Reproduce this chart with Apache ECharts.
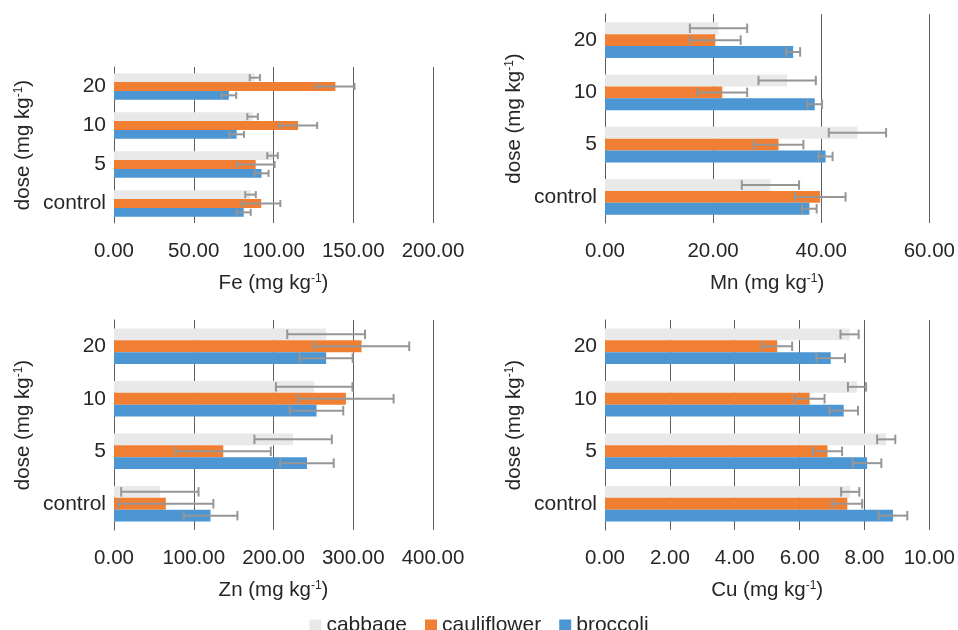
<!DOCTYPE html>
<html>
<head>
<meta charset="utf-8">
<script src="https://cdn.jsdelivr.net/npm/echarts@6/dist/echarts.min.js"></script>
<style>
  html, body { margin: 0; padding: 0; background: #fff; }
  #chart { width: 958px; height: 630px; }
</style>
</head>
<body>
<div id="chart"></div>
<script>
// dose categories, bottom to top
const doses = ["control", "5", "10", "20"];
const vegNames = ["cabbage", "cauliflower", "broccoli"];

// Fe (mg kg-1)
const feCabbage = [85.6, 99.4, 86.9, 88.3];
const feCabbageErr = [3.3, 3.3, 3.3, 3.2];
const feCauli = [92.3, 88.8, 115.4, 138.8];
const feCauliErr = [12, 11.9, 12, 12];
const feBroc = [81.3, 92.5, 76.9, 72.0];
const feBrocErr = [4.4, 4.4, 4.6, 4.6];

// Mn (mg kg-1)
const mnCabbage = [30.6, 46.7, 33.7, 21.0];
const mnCabbageErr = [5.3, 5.3, 5.3, 5.3];
const mnCauli = [39.8, 32.1, 21.7, 20.4];
const mnCauliErr = [4.7, 4.6, 4.6, 4.7];
const mnBroc = [37.8, 40.8, 38.8, 34.8];
const mnBrocErr = [1.35, 1.3, 1.35, 1.3];

// Zn (mg kg-1)
const znCabbage = [57.5, 224.6, 251, 266];
const znCabbageErr = [48.5, 48.5, 48, 48.8];
const znCauli = [65, 137, 290.8, 310.4];
const znCauliErr = [59.6, 59.6, 59.8, 59.8];
const znBroc = [121, 242, 254, 266];
const znBrocErr = [33.75, 33.5, 33.5, 33.3];

// Cu (mg kg-1)
const cuCabbage = [7.56, 8.67, 7.77, 7.54];
const cuCabbageErr = [0.28, 0.28, 0.28, 0.28];
const cuCauli = [7.47, 6.86, 6.31, 5.31];
const cuCauliErr = [0.46, 0.45, 0.46, 0.46];
const cuBroc = [8.88, 8.08, 7.36, 6.96];
const cuBrocErr = [0.44, 0.44, 0.44, 0.44];

const colors = ["#e9e9e9", "#f07f33", "#4b96d3"];
const font = "Liberation Sans, Arial, sans-serif";
const textColor = "#262626";
const lineColor = "#5f5f5f";
const gapPct = 0.32;

const panels = [
  { el: "Fe", max: 200, interval: 50, grid: { left: 114, top: 67, width: 319, height: 156 },
    means: [feCabbage, feCauli, feBroc], errs: [feCabbageErr, feCauliErr, feBrocErr] },
  { el: "Mn", max: 60, interval: 20, grid: { left: 605, top: 14, width: 325, height: 209 },
    means: [mnCabbage, mnCauli, mnBroc], errs: [mnCabbageErr, mnCauliErr, mnBrocErr] },
  { el: "Zn", max: 400, interval: 100, grid: { left: 114, top: 320, width: 319, height: 210 },
    means: [znCabbage, znCauli, znBroc], errs: [znCabbageErr, znCauliErr, znBrocErr] },
  { el: "Cu", max: 10, interval: 2, grid: { left: 605, top: 320, width: 325, height: 210 },
    means: [cuCabbage, cuCauli, cuBroc], errs: [cuCabbageErr, cuCauliErr, cuBrocErr] },
];

const richName = {
  sup: { fontSize: 12, verticalAlign: "top", color: textColor, fontFamily: font },
};

const grids = [];
const xAxes = [];
const yAxes = [];
const series = [];

panels.forEach((p, i) => {
  grids.push(p.grid);
  xAxes.push({
    type: "value",
    gridIndex: i,
    min: 0,
    max: p.max,
    interval: p.interval,
    name: p.el + " (mg kg{sup|-1})",
    nameLocation: "middle",
    nameGap: 50,
    nameTextStyle: { fontSize: 20.5, color: textColor, fontFamily: font, rich: richName },
    axisLine: { show: false },
    axisTick: { show: false },
    axisLabel: {
      fontSize: 20.5,
      color: textColor,
      fontFamily: font,
      margin: 18,
      formatter: (v) => v.toFixed(2),
    },
    splitLine: { lineStyle: { color: lineColor, width: 1 } },
  });
  yAxes.push({
    type: "category",
    gridIndex: i,
    data: doses,
    name: "dose (mg kg{sup|-1})",
    nameLocation: "middle",
    nameGap: 80,
    nameRotate: 90,
    nameTextStyle: { fontSize: 20.5, color: textColor, fontFamily: font, rich: richName },
    axisLine: { show: true, lineStyle: { color: lineColor, width: 1 } },
    axisTick: { show: false },
    axisLabel: { fontSize: 21, color: textColor, fontFamily: font, margin: 8 },
  });

  // bars
  vegNames.forEach((name, k) => {
    series.push({
      type: "bar",
      name: name,
      xAxisIndex: i,
      yAxisIndex: i,
      data: p.means[k],
      barGap: 0,
      barCategoryGap: gapPct * 100 + "%",
      itemStyle: { color: colors[k] },
      emphasis: { disabled: true },
      z: 2,
    });
  });

  // error bars
  const errData = [];
  vegNames.forEach((name, k) => {
    doses.forEach((d, c) => {
      errData.push([p.means[k][c], c, p.errs[k][c], k]);
    });
  });
  series.push({
    type: "custom",
    name: "err",
    xAxisIndex: i,
    yAxisIndex: i,
    data: errData,
    encode: { x: 0, y: 1 },
    z: 5,
    silent: true,
    renderItem: (params, api) => {
      const v = api.value(0);
      const c = api.value(1);
      const e = api.value(2);
      const k = api.value(3);
      const band = api.size([0, 1])[1];
      const bh = (band * (1 - gapPct)) / 3;
      const off = -1.5 * bh + (k + 0.5) * bh;
      const lo = api.coord([v - e, c]);
      const hi = api.coord([v + e, c]);
      const y = lo[1] + off;
      const cap = bh * 0.4;
      const style = { stroke: "#969696", lineWidth: 2 };
      return {
        type: "group",
        children: [
          { type: "line", shape: { x1: lo[0], y1: y, x2: hi[0], y2: y }, style: style },
          { type: "line", shape: { x1: lo[0], y1: y - cap, x2: lo[0], y2: y + cap }, style: style },
          { type: "line", shape: { x1: hi[0], y1: y - cap, x2: hi[0], y2: y + cap }, style: style },
        ],
      };
    },
  });
});

const chart = echarts.init(document.getElementById("chart"));
chart.setOption({
  animation: false,
  backgroundColor: "#fff",
  legend: {
    data: vegNames,
    left: "center",
    top: 610,
    icon: "rect",
    itemWidth: 12,
    itemHeight: 12,
    itemGap: 18,
    textStyle: { fontSize: 21, color: textColor, fontFamily: font },
  },
  grid: grids,
  xAxis: xAxes,
  yAxis: yAxes,
  series: series,
});
</script>
</body>
</html>
